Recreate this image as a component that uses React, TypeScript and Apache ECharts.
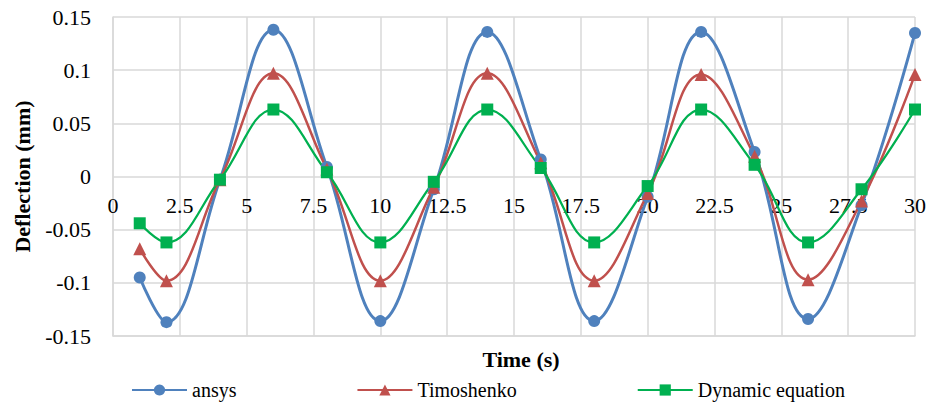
import React, { useEffect, useRef } from "react";
import * as echarts from "echarts";

const times = [1, 2, 4, 6, 8, 10, 12, 14, 16, 18, 20, 22, 24, 26, 28, 30];
const ansys = [-0.095, -0.137, -0.003, 0.138, 0.009, -0.136, -0.012, 0.136, 0.016, -0.136, -0.019, 0.136, 0.023, -0.134, -0.027, 0.135];
const timoshenko = [-0.068, -0.098, -0.003, 0.097, 0.007, -0.098, -0.010, 0.097, 0.013, -0.098, -0.016, 0.096, 0.019, -0.097, -0.023, 0.096];
const dynamicEq = [-0.044, -0.062, -0.003, 0.063, 0.004, -0.062, -0.005, 0.063, 0.008, -0.062, -0.009, 0.063, 0.011, -0.062, -0.012, 0.063];
const seriesNames = ["ansys", "Timoshenko", "Dynamic equation"];

const FONT = "Times New Roman, Liberation Serif, serif";

export default function App() {
  const ref = useRef<HTMLDivElement>(null);
  useEffect(() => {
    if (!ref.current) return;
    const chart = echarts.init(ref.current, null, { renderer: "svg" });
    const pair = (ys: number[]) => times.map((t, i) => [t, ys[i]]);
    const grid = "#d9d9d9";
    chart.setOption({
      animation: false,
      backgroundColor: "#ffffff",
      textStyle: { fontFamily: FONT },
      title: {
        text: "Time (s)",
        left: 516,
        top: 343,
        textAlign: "center",
        textStyle: { fontFamily: FONT, fontWeight: "bold", fontSize: 22, color: "#000" },
      },
      grid: { left: 113, right: 15, top: 17, bottom: 69, containLabel: false },
      legend: {
        data: seriesNames,
        left: 126,
        top: 375,
        itemWidth: 55,
        itemHeight: 14,
        itemGap: 120,
        textStyle: { fontFamily: FONT, fontSize: 20, color: "#000" },
      },
      xAxis: {
        type: "value",
        min: 0,
        max: 30,
        interval: 2.5,
        axisLine: { show: true, onZero: false, lineStyle: { color: grid, width: 1.5 } },
        axisTick: { show: false },
        axisLabel: { fontFamily: FONT, fontSize: 22, color: "#000", margin: -142 },
        splitLine: { show: true, lineStyle: { color: grid, width: 1.5 } },
      },
      yAxis: {
        type: "value",
        min: -0.15,
        max: 0.15,
        interval: 0.05,
        name: "Deflection (mm)",
        nameLocation: "middle",
        nameGap: 80,
        nameTextStyle: { fontFamily: FONT, fontWeight: "bold", fontSize: 22, color: "#000" },
        axisLine: { show: true, onZero: false, lineStyle: { color: grid, width: 1.5 } },
        axisTick: { show: false },
        axisLabel: { fontFamily: FONT, fontSize: 22, color: "#000", margin: 22 },
        splitLine: { show: true, lineStyle: { color: grid, width: 1.5 } },
      },
      series: [
        {
          name: seriesNames[0],
          type: "line",
          data: pair(ansys),
          smooth: 0.4,
          symbol: "circle",
          symbolSize: 12,
          itemStyle: { color: "#4f81bd" },
          lineStyle: { color: "#4f81bd", width: 3 },
        },
        {
          name: seriesNames[1],
          type: "line",
          data: pair(timoshenko),
          smooth: 0.4,
          symbol: "triangle",
          symbolSize: 13,
          itemStyle: { color: "#c0504d" },
          lineStyle: { color: "#c0504d", width: 2.5 },
        },
        {
          name: seriesNames[2],
          type: "line",
          data: pair(dynamicEq),
          smooth: 0.4,
          symbol: "rect",
          symbolSize: 12,
          itemStyle: { color: "#00b050" },
          lineStyle: { color: "#00b050", width: 2.25 },
        },
      ],
    });
    return () => chart.dispose();
  }, []);
  return <div ref={ref} style={{ width: 930, height: 405, position: "absolute", left: 0, top: 0 }} />;
}
